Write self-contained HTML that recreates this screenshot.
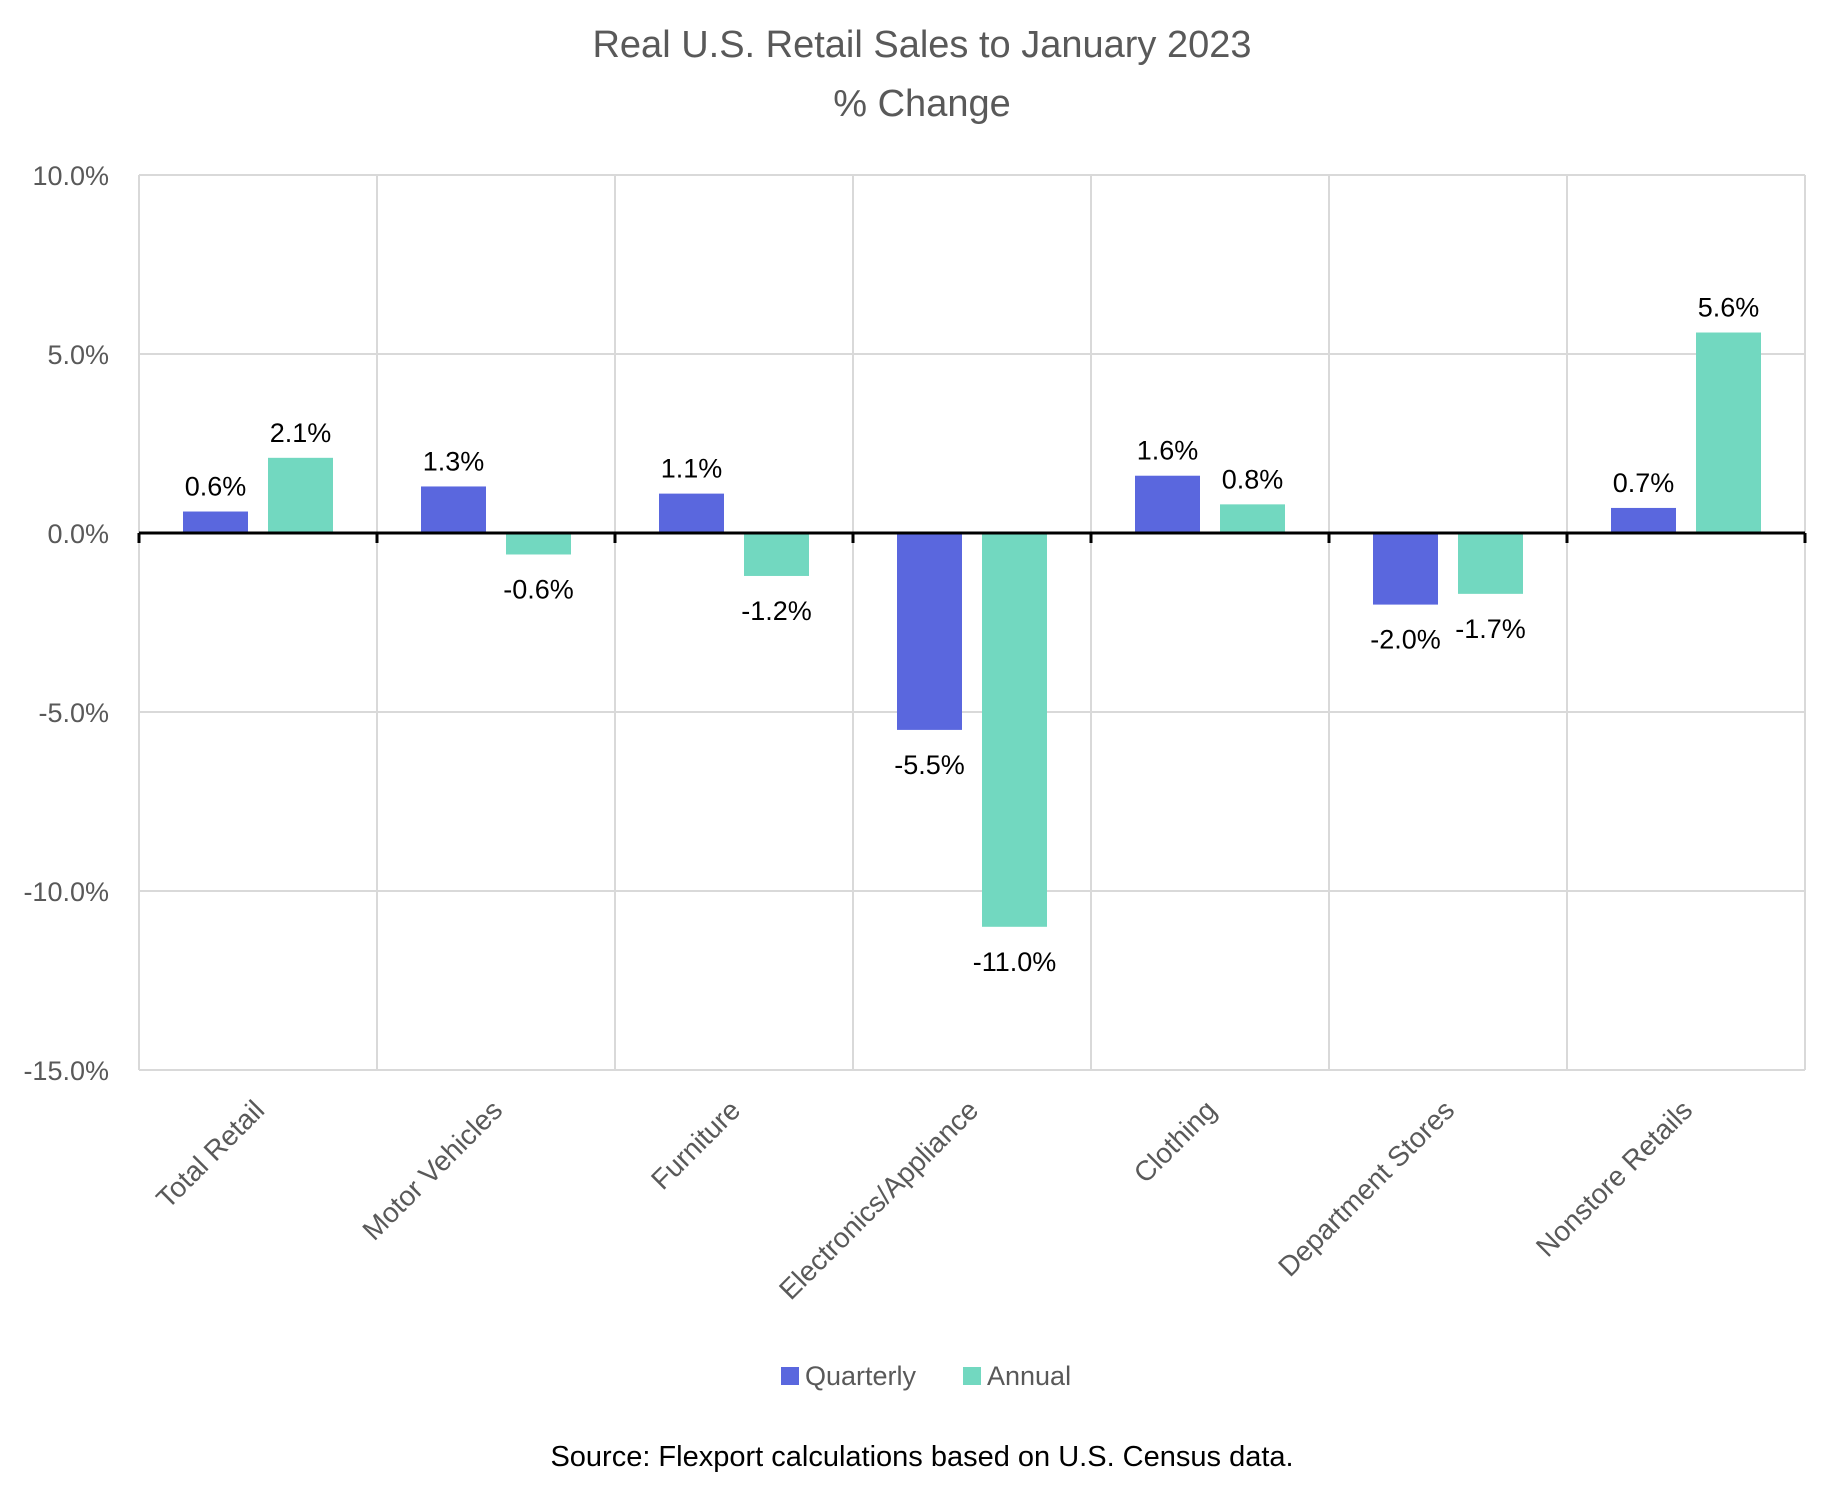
<!DOCTYPE html>
<html><head><meta charset="utf-8"><style>
body{margin:0;background:#fff}
svg{display:block;font-family:"Liberation Sans",sans-serif}
</style></head><body>
<svg id="chart" width="1845" height="1491" viewBox="0 0 1845 1491">
<text x="922" y="57" text-anchor="middle" font-size="38" fill="#595959">Real U.S. Retail Sales to January 2023</text>
<text x="922" y="116" text-anchor="middle" font-size="38" fill="#595959">% Change</text>
<g id="grid"></g><g id="bars"></g><g id="labels"></g>
<g>
<rect x="781" y="1367" width="18" height="18" fill="#5a67de"/>
<text x="805" y="1385" font-size="27" fill="#595959">Quarterly</text>
<rect x="963" y="1367" width="18" height="18" fill="#72d8c0"/>
<text x="987" y="1385" font-size="27" fill="#595959">Annual</text>
</g>
<text x="922" y="1466" text-anchor="middle" font-size="29" fill="#000">Source: Flexport calculations based on U.S. Census data.</text>
</svg>
<script>
const categories=["Total Retail","Motor Vehicles","Furniture","Electronics/Appliance","Clothing","Department Stores","Nonstore Retails"];
const quarterly=[0.6,1.3,1.1,-5.5,1.6,-2.0,0.7];
const annual=[2.1,-0.6,-1.2,-11.0,0.8,-1.7,5.6];
const yTicks=[10,5,0,-5,-10,-15];
const NS="http://www.w3.org/2000/svg";
const L=139,R=1805,T=175,B=1070,yMax=10,yMin=-15;
const y=v=>T+(yMax-v)/(yMax-yMin)*(B-T);
const cw=(R-L)/categories.length;
const cx=i=>L+cw*(i+0.5);
function mk(tag,attrs,parent,txt){const e=document.createElementNS(NS,tag);for(const k in attrs)e.setAttribute(k,attrs[k]);if(txt!==undefined)e.textContent=txt;parent.appendChild(e);return e;}
const grid=document.getElementById('grid'),bars=document.getElementById('bars'),labels=document.getElementById('labels');
yTicks.forEach(t=>{
  if(t!==0){const l=mk('line',{x1:L,x2:R,y1:y(t),y2:y(t),stroke:'#d9d9d9','stroke-width':2},grid);
  
  }
  const tx=mk('text',{x:L-30,y:y(t)+10,'text-anchor':'end','font-size':27,fill:'#595959'},grid,t.toFixed(1)+'%');
  
  
});
for(let i=0;i<=categories.length;i++){
  const l=mk('line',{x1:L+cw*i,x2:L+cw*i,y1:T,y2:B,stroke:'#d9d9d9','stroke-width':2},grid);
  
  
}
const bw=65,gap=20;
function bar(v,x,color,name){
  const y0=y(0),yv=y(v);
  const r=mk('rect',{x:x,y:Math.min(y0,yv),width:bw,height:Math.abs(yv-y0),fill:color},bars);
  
  
  const ly=v>=0?yv-16:yv+44;
  const t=mk('text',{x:x+bw/2,y:ly,'text-anchor':'middle','font-size':27,fill:'#000'},labels,v.toFixed(1)+'%');
  
  
}
categories.forEach((c,i)=>{
  bar(quarterly[i],cx(i)-gap/2-bw,'#5a67de','bar-quarterly');
  bar(annual[i],cx(i)+gap/2,'#72d8c0','bar-annual');
  const tx=cx(i)+8,ty=1112;
  const t=mk('text',{x:tx,y:ty,'text-anchor':'end','font-size':28,fill:'#595959',transform:`rotate(-45 ${tx} ${ty})`},labels,c);
  
  
});
const ax=mk('line',{x1:L,x2:R,y1:y(0),y2:y(0),stroke:'#000','stroke-width':3},labels);


for(let i=0;i<=categories.length;i++){
  const tk=mk('line',{x1:L+cw*i,x2:L+cw*i,y1:y(0),y2:y(0)+10,stroke:'#000','stroke-width':3},labels);
  
  
}
</script>
</body></html>
